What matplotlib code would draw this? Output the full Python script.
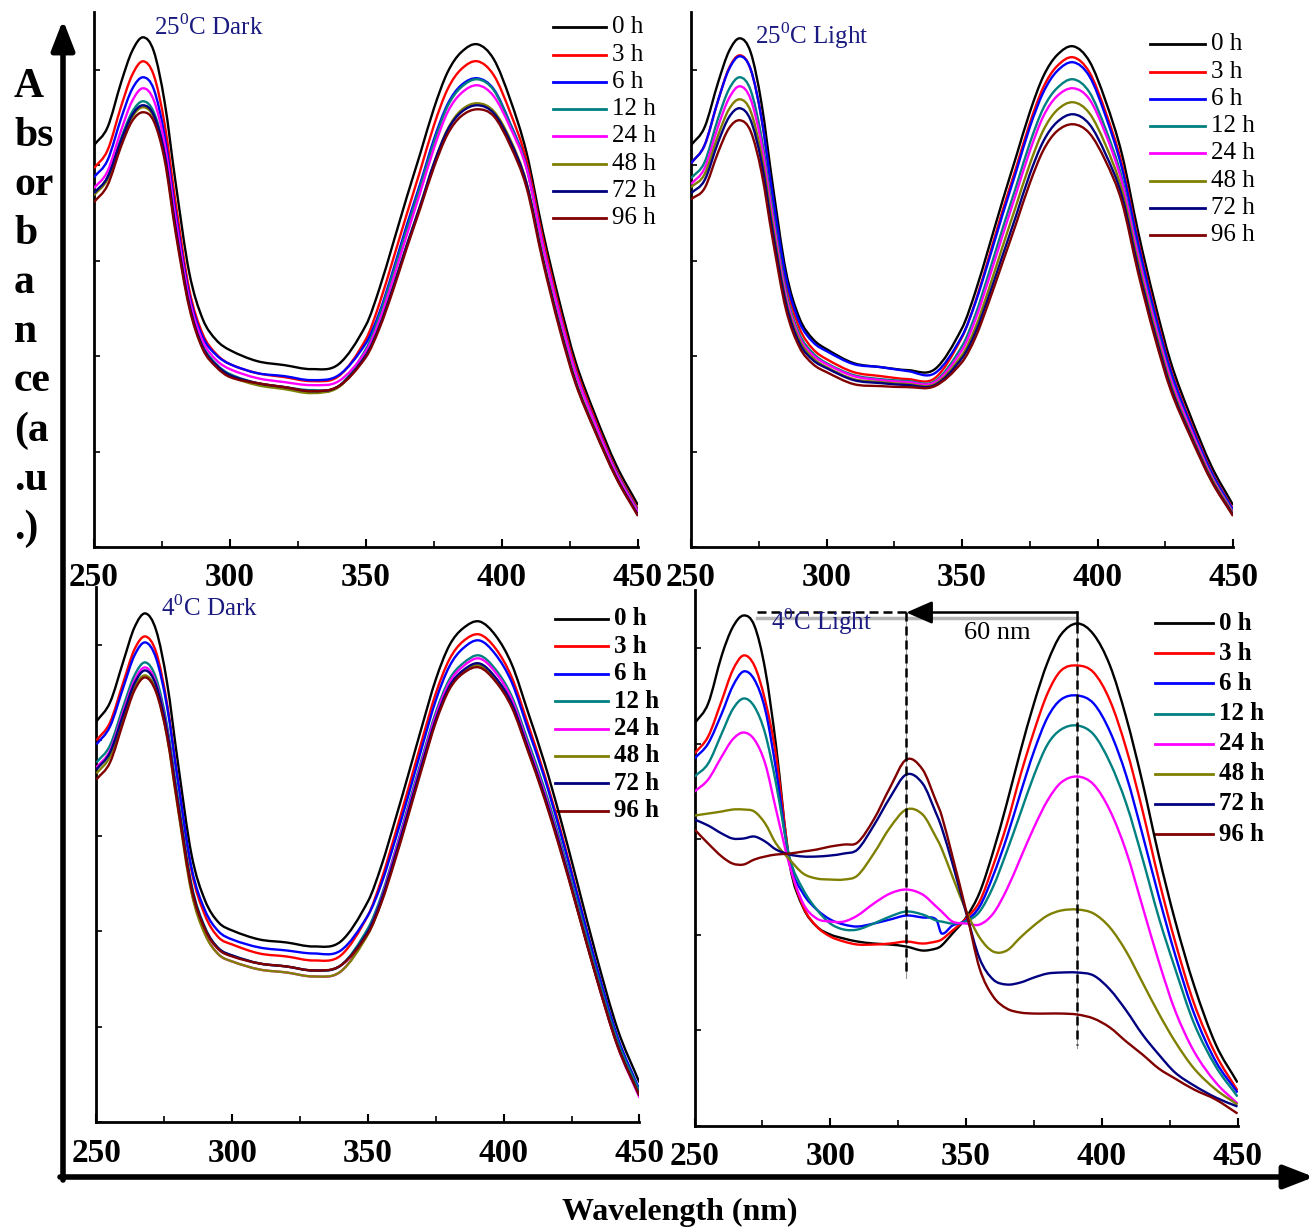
import matplotlib
matplotlib.use("Agg")
import matplotlib.pyplot as plt
from matplotlib.patches import FancyArrowPatch, PathPatch
from matplotlib.path import Path
from matplotlib.ticker import MultipleLocator

plt.rcParams['font.family'] = ['Liberation Serif', 'DejaVu Serif']
plt.rcParams['mathtext.fontset'] = 'custom'
plt.rcParams['mathtext.rm'] = 'Liberation Serif'
plt.rcParams['mathtext.bf'] = 'Liberation Serif:bold'

# legend labels and colours (same for all four panels)
hours = ['0 h', '3 h', '6 h', '12 h', '24 h', '48 h', '72 h', '96 h']
colors = ['#000000', '#ff0000', '#0000ff', '#008080',
          '#ff00ff', '#808000', '#000080', '#800000']

# wavelength grids (nm)
wl = [250, 255, 260, 264, 268, 272, 276, 280, 285, 290, 295, 300, 310, 320, 330, 340,
      350, 355, 360, 365, 370, 375, 380, 385, 391, 397, 403, 409, 415, 421, 427, 434, 442, 450]
wl_light4 = [250, 255, 260, 264, 268, 272, 276, 280, 285, 290, 295, 300, 305, 310, 316, 322,
             328, 334, 339, 341, 345, 350, 355, 360, 365, 370, 375, 380, 385, 391, 397, 403,
             409, 415, 421, 427, 434, 442, 450]

# absorbance (a.u.), one row per time point
dark25 = [
    [402, 420, 465, 496, 510, 496, 445, 365, 275, 228, 207, 197, 186, 182, 178, 183, 222, 259,
     304, 350, 394, 439, 475, 495, 503, 488, 448, 395, 316, 247, 186, 134, 82, 42],
    [379, 397, 441, 472, 486, 472, 423, 345, 258, 213, 193, 183, 174, 170, 166, 171, 208, 244,
     288, 333, 377, 422, 458, 478, 486, 472, 435, 387, 309, 240, 180, 129, 77, 38],
    [370, 387, 429, 458, 470, 458, 411, 335, 253, 210, 192, 183, 174, 171, 167, 172, 204, 235,
     277, 322, 364, 408, 443, 462, 469, 458, 424, 381, 303, 235, 176, 126, 75, 36],
    [354, 370, 409, 435, 446, 435, 395, 323, 245, 202, 183, 173, 164, 160, 157, 161, 198, 232,
     274, 318, 361, 405, 441, 460, 468, 457, 423, 380, 303, 235, 176, 125, 75, 36],
    [359, 376, 417, 446, 459, 447, 403, 329, 249, 206, 187, 178, 169, 165, 162, 166, 196, 227,
     268, 312, 355, 399, 435, 454, 462, 451, 420, 379, 302, 234, 175, 125, 74, 35],
    [352, 368, 405, 430, 440, 430, 391, 318, 242, 199, 181, 171, 162, 158, 154, 160, 192, 221,
     260, 302, 342, 384, 418, 437, 444, 436, 408, 365, 290, 224, 167, 119, 70, 32],
    [354, 370, 407, 432, 442, 432, 393, 320, 243, 200, 182, 172, 164, 160, 156, 161, 192, 221,
     260, 302, 342, 384, 417, 435, 442, 434, 406, 364, 289, 223, 166, 118, 70, 32],
    [345, 362, 401, 426, 435, 426, 387, 315, 240, 198, 180, 170, 164, 160, 156, 161, 190, 219,
     257, 299, 339, 380, 413, 431, 438, 431, 402, 360, 286, 220, 164, 117, 69, 31],
]

light25 = [
    [402, 420, 465, 496, 509, 495, 444, 365, 276, 229, 208, 198, 184, 180, 177, 178, 219, 256,
     301, 347, 391, 435, 471, 492, 501, 486, 446, 393, 315, 246, 185, 133, 81, 42],
    [384, 402, 447, 479, 492, 478, 429, 351, 265, 219, 198, 188, 175, 171, 168, 169, 210, 246,
     291, 337, 380, 424, 460, 481, 490, 475, 435, 383, 306, 238, 178, 127, 76, 38],
    [384, 402, 447, 478, 491, 478, 429, 354, 270, 225, 205, 196, 183, 180, 176, 174, 211, 245,
     288, 333, 376, 420, 455, 476, 485, 471, 431, 379, 303, 235, 176, 125, 75, 37],
    [369, 385, 429, 458, 470, 457, 410, 338, 256, 213, 194, 184, 172, 168, 166, 166, 201, 233,
     275, 319, 361, 404, 439, 459, 468, 455, 418, 369, 294, 228, 170, 121, 72, 35],
    [363, 379, 421, 449, 461, 448, 403, 332, 252, 210, 192, 183, 171, 167, 165, 165, 197, 228,
     269, 312, 354, 396, 431, 451, 459, 448, 413, 365, 291, 225, 168, 120, 71, 34],
    [360, 373, 412, 438, 448, 436, 392, 324, 247, 207, 189, 180, 168, 165, 163, 163, 192, 220,
     259, 301, 342, 383, 417, 437, 445, 434, 402, 357, 284, 219, 163, 116, 69, 33],
    [354, 367, 405, 430, 439, 427, 385, 318, 244, 204, 187, 179, 167, 164, 162, 162, 189, 215,
     252, 292, 332, 373, 406, 425, 433, 423, 393, 351, 279, 215, 160, 114, 67, 32],
    [348, 359, 395, 419, 427, 416, 375, 310, 238, 200, 183, 175, 163, 161, 160, 161, 185, 210,
     246, 285, 324, 364, 397, 416, 423, 414, 386, 345, 274, 211, 157, 112, 66, 31],
]

dark4 = [
    [401, 420, 462, 495, 509, 492, 440, 360, 268, 222, 200, 192, 183, 180, 176, 181, 221, 257,
     302, 349, 397, 443, 477, 494, 501, 487, 458, 410, 360, 303, 241, 168, 93, 40],
    [382, 400, 441, 473, 486, 470, 419, 342, 252, 207, 185, 178, 169, 166, 162, 167, 207, 243,
     288, 335, 383, 429, 463, 481, 488, 474, 445, 398, 348, 292, 230, 158, 84, 31],
    [378, 396, 436, 467, 480, 464, 416, 342, 255, 212, 191, 183, 175, 172, 169, 172, 207, 239,
     282, 328, 376, 422, 456, 474, 482, 468, 440, 393, 345, 289, 229, 158, 85, 33],
    [360, 377, 417, 447, 460, 444, 397, 324, 238, 195, 174, 167, 159, 156, 152, 157, 194, 227,
     271, 318, 365, 410, 443, 459, 467, 453, 426, 381, 334, 280, 221, 152, 81, 31],
    [355, 372, 412, 442, 455, 439, 392, 318, 232, 189, 168, 161, 153, 150, 146, 151, 190, 224,
     269, 315, 362, 407, 440, 456, 464, 450, 423, 377, 330, 276, 216, 147, 76, 25],
    [349, 366, 405, 435, 447, 432, 386, 314, 230, 188, 168, 161, 153, 150, 146, 151, 188, 221,
     264, 310, 357, 402, 435, 451, 457, 443, 417, 372, 326, 273, 215, 147, 77, 27],
    [353, 370, 409, 439, 452, 437, 391, 320, 236, 194, 174, 167, 159, 156, 152, 157, 191, 223,
     266, 312, 359, 403, 436, 452, 459, 445, 419, 374, 327, 274, 215, 147, 77, 27],
    [343, 360, 401, 432, 445, 430, 386, 316, 234, 193, 173, 166, 159, 156, 152, 157, 189, 220,
     262, 308, 355, 400, 433, 449, 455, 441, 415, 371, 324, 271, 214, 146, 76, 27],
]

light4 = [
    [402, 422, 470, 498, 510, 500, 456, 380, 262, 218, 199, 191, 187, 184, 182, 181, 179, 175,
     177, 180, 192, 208, 233, 274, 322, 374, 422, 463, 491, 502, 491, 460, 408, 343, 270, 205,
     140, 81, 43],
    [372, 389, 425, 455, 470, 460, 425, 370, 265, 219, 199, 189, 184, 181, 181, 182, 184, 182,
     184, 186, 195, 207, 224, 260, 301, 350, 394, 432, 455, 460, 453, 425, 377, 315, 246, 184,
     122, 71, 35],
    [367, 382, 412, 439, 454, 446, 416, 356, 264, 232, 216, 206, 201, 199, 202, 206, 210, 208,
     206, 192, 200, 205, 219, 250, 288, 332, 374, 408, 426, 430, 422, 394, 350, 291, 229, 171,
     112, 64, 33],
    [349, 362, 392, 416, 427, 419, 392, 342, 268, 236, 216, 202, 196, 196, 202, 209, 214, 211,
     205, 204, 202, 204, 214, 239, 274, 312, 350, 381, 396, 400, 391, 363, 322, 267, 208, 157,
     102, 59, 29],
    [334, 346, 369, 386, 393, 386, 362, 316, 260, 222, 207, 204, 204, 210, 222, 232, 236, 231,
     219, 214, 204, 202, 201, 212, 236, 267, 298, 325, 343, 349, 341, 315, 274, 219, 164, 115,
     74, 43, 22],
    [310, 312, 314, 316, 316, 314, 302, 282, 266, 252, 247, 246, 246, 250, 272, 298, 316, 311,
     288, 277, 249, 215, 188, 174, 175, 188, 200, 210, 215, 216, 212, 198, 174, 143, 112, 84,
     57, 36, 21],
    [306, 300, 292, 287, 287, 289, 284, 276, 271, 269, 269, 270, 272, 276, 300, 328, 351, 342,
     312, 298, 262, 213, 167, 146, 141, 143, 148, 152, 153, 153, 150, 136, 115, 91, 71, 53,
     40, 28, 19],
    [296, 282, 269, 262, 261, 266, 269, 271, 272, 274, 276, 279, 281, 283, 306, 338, 366, 356,
     324, 310, 269, 215, 157, 129, 117, 113, 112, 112, 112, 111, 107, 98, 84, 71, 57, 47,
     36, 26, 12],
]

# band positions marked in the 4 C light panel (nm)
band_old = 391
band_new = 328

title_color = '#1a1a80'


def smooth_path(x, y):
    # cubic Bezier path through the read points (drawn by matplotlib, no new data points)
    n = len(x)
    slopes = []
    for i in range(n):
        a, b = max(i - 1, 0), min(i + 1, n - 1)
        slopes.append((y[b] - y[a]) / (x[b] - x[a]))
    verts = [(x[0], y[0])]
    codes = [Path.MOVETO]
    for i in range(n - 1):
        h = x[i + 1] - x[i]
        verts += [(x[i] + h / 3, y[i] + slopes[i] * h / 3),
                  (x[i + 1] - h / 3, y[i + 1] - slopes[i + 1] * h / 3),
                  (x[i + 1], y[i + 1])]
        codes += [Path.CURVE4] * 3
    return Path(verts, codes)


fig = plt.figure(figsize=(13.14, 12.32), dpi=100)

# axes rects, titles and legend placement (axes fractions)
panels = [
    dict(data=dark25, x=wl, rect=[0.0715, 0.556, 0.414, 0.434], title='25$^{0}$C Dark',
         tpos=(0.211, 0.972), leg=(0.844, 0.941, 0.952, 0.972, 0.051), bold=False),
    dict(data=light25, x=wl, rect=[0.5259, 0.556, 0.4125, 0.434], title='25$^{0}$C Light',
         tpos=(0.223, 0.957), leg=(0.847, 0.948, 0.959, 0.940, 0.051), bold=False),
    dict(data=dark4, x=wl, rect=[0.0734, 0.0889, 0.4132, 0.4343], title='4$^{0}$C Dark',
         tpos=(0.209, 0.962), leg=(0.844, 0.942, 0.953, 0.941, 0.0512), bold=True),
    dict(data=light4, x=wl_light4, rect=[0.5286, 0.0864, 0.4132, 0.4343], title='4$^{0}$C Light',
         tpos=(0.233, 0.941), leg=(0.848, 0.955, 0.966, 0.939, 0.0563), bold=True),
]

axes = []
for p in panels:
    ax = fig.add_axes(p['rect'])
    axes.append(ax)
    for row, c in zip(p['data'], colors):
        ax.add_patch(PathPatch(smooth_path(p['x'], row), fill=False, edgecolor=c,
                               lw=1.7, joinstyle='round', zorder=3))
    ax.set_xlim(250, 450)
    ax.set_ylim(0, 535)
    for s in ['top', 'right']:
        ax.spines[s].set_visible(False)
    for s in ['left', 'bottom']:
        ax.spines[s].set_linewidth(2)
    ax.xaxis.set_major_locator(MultipleLocator(50))
    ax.xaxis.set_minor_locator(MultipleLocator(25))
    ax.yaxis.set_major_locator(MultipleLocator(95.5))
    ax.tick_params(axis='x', which='major', direction='in', length=6, width=1.5, pad=11)
    ax.tick_params(axis='x', which='minor', direction='in', length=4, width=1.2)
    ax.tick_params(axis='y', direction='in', length=4, width=1.2, labelleft=False)
    ax.set_xticks([250, 300, 350, 400, 450])
    ax.set_xticklabels(['250', '300', '350', '400', '450'], fontsize=24, fontweight='bold')
    ax.patch.set_alpha(0)

    ax.text(p['tpos'][0], p['tpos'][1], p['title'], transform=ax.transAxes,
            ha='center', va='center', fontsize=18, color=title_color, zorder=6)

    x0, x1, xt, y0, dy = p['leg']
    for i, (lab, c) in enumerate(zip(hours, colors)):
        y = y0 - i * dy
        ax.plot([x0, x1], [y, y], color=c, lw=2, transform=ax.transAxes, clip_on=False)
        ax.text(xt, y, lab, transform=ax.transAxes, ha='left', va='center',
                fontsize=18, fontweight='bold' if p['bold'] else 'normal')

# annotations of the band shift in the 4 C light panel
ax = axes[3]
arrow_y = 513
ax.plot([273, band_old], [508, 508], color='#b5b5b5', lw=2.5, zorder=1)
ax.plot([273, band_new], [arrow_y, arrow_y], color='k', lw=1.8, ls='--', dashes=(3.6, 2), zorder=2)
ax.plot([band_new, band_new], [arrow_y, 148], color='#9a9a9a', lw=0.8, zorder=1)
ax.plot([band_old, band_old], [502, 78], color='#9a9a9a', lw=0.8, zorder=1)
ax.plot([band_new, band_new], [arrow_y, 152], color='k', lw=1.8, ls='--', dashes=(3.6, 2), zorder=4)
ax.plot([band_old, band_old], [502, 81], color='k', lw=1.8, ls='--', dashes=(3.6, 2), zorder=4)
ax.plot([band_old, band_old], [arrow_y, 502], color='k', lw=1.8, zorder=4)
ax.annotate('', xy=(band_new, arrow_y), xytext=(band_old, arrow_y),
            arrowprops=dict(arrowstyle='-|>,head_length=0.8,head_width=0.35', color='k',
                            lw=1.8, mutation_scale=20, shrinkA=0, shrinkB=0), zorder=5)
ax.text((band_new + band_old) / 2 + 2, 493, '60 nm', ha='center', va='center', fontsize=19)

# big axis arrows
W, H = 1314, 1232
fig.add_artist(FancyArrowPatch((63 / W, 1 - 1180 / H), (63 / W, 1 - 20 / H),
                               transform=fig.transFigure, arrowstyle='-|>,head_length=0.9,head_width=0.35',
                               mutation_scale=20, lw=4, color='k', shrinkA=0, shrinkB=0))
fig.add_artist(FancyArrowPatch((60 / W, 1 - 1177 / H), (1314 / W, 1 - 1177 / H),
                               transform=fig.transFigure, arrowstyle='-|>,head_length=0.9,head_width=0.35',
                               mutation_scale=20, lw=4, color='k', shrinkA=0, shrinkB=0))

fig.text(14 / W, 1 - 68 / H, 'A\nbs\nor\nb\na\nn\nce\n(a\n.u\n.)', ha='left', va='top',
         fontsize=30, fontweight='bold', linespacing=1.38)
fig.text(680 / W, 1 - 1212 / H, 'Wavelength (nm)', ha='center', va='center',
         fontsize=23, fontweight='bold')

fig.savefig('out.png', dpi=100)
